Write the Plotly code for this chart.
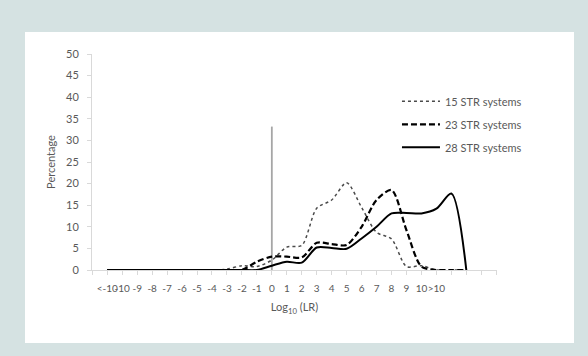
import plotly.graph_objects as go

# Category labels (index 0..22 labelled, 23..24 unlabelled)
tick_labels = ["<-10", "-10", "-9", "-8", "-7", "-6", "-5", "-4", "-3", "-2", "-1",
               "0", "1", "2", "3", "4", "5", "6", "7", "8", "9", "10", ">10", "", ""]
positions = list(range(len(tick_labels)))

str15 = [0, 0, 0, 0, 0, 0, 0, 0, 0.2, 1.0, 0.8, 2.3, 5.3, 5.7, 14.3, 16.2, 20.2, 14.5, 8.7, 7.2, 0.8, 1.0, 0, 0, 0]
str23 = [0, 0, 0, 0, 0, 0, 0, 0, 0, 0, 1.9, 3.1, 3.1, 2.9, 6.3, 6.0, 5.8, 10.0, 16.2, 18.5, 9.2, 0.8, 0, 0, 0]
str28 = [0, 0, 0, 0, 0, 0, 0, 0, 0, 0, 0, 1.0, 1.9, 1.7, 5.2, 5.1, 4.9, 7.3, 10.0, 13.1, 13.2, 13.1, 14.2, 17.7, 0]

zero_line_x = [11, 11]
zero_line_y = [0, 33.2]

y_ticks = [0, 5, 10, 15, 20, 25, 30, 35, 40, 45, 50]

FONT = "Lato, 'Open Sans', sans-serif"
GRAY_TXT = "#595959"

# plot area in pixels: x 92..497, y 54..270
L, R, T, B = 92, 497, 54, 270
PW, PH = R - L, B - T

fig = go.Figure()

fig.add_trace(go.Scatter(x=zero_line_x, y=zero_line_y, mode="lines",
                         line=dict(color="#a6a6a6", width=1.8),
                         showlegend=False, hoverinfo="skip"))

fig.add_trace(go.Scatter(x=positions, y=str15, mode="lines", name="15 STR systems",
                         line=dict(color="#4a4a4a", width=1.5, dash="dot", shape="spline", smoothing=0.8),
                         legendgroup="a"))
fig.add_trace(go.Scatter(x=positions, y=str23, mode="lines", name="23 STR systems",
                         line=dict(color="#000000", width=2.2, dash="6px,3px", shape="spline", smoothing=0.8),
                         legendgroup="b"))
fig.add_trace(go.Scatter(x=positions, y=str28, mode="lines", name="28 STR systems",
                         line=dict(color="#000000", width=2.0, shape="spline", smoothing=0.8),
                         legendgroup="c"))

all_ticks = list(range(-1, 27))
all_text = ([""] + tick_labels + ["", ""])[:len(all_ticks)]

fig.update_layout(
    width=588, height=356,
    paper_bgcolor="#d5e2e2",
    plot_bgcolor="rgba(0,0,0,0)",
    margin=dict(l=L, r=588 - R, t=T, b=356 - B),
    font=dict(family=FONT, size=11, color=GRAY_TXT),
    shapes=[dict(type="rect", xref="paper", yref="paper", layer="below",
                 x0=(25 - L) / PW, x1=(574 - L) / PW,
                 y0=(B - 343) / PH, y1=(B - 32) / PH,
                 fillcolor="white", line=dict(width=0))],
    xaxis=dict(range=[-1.02, 26.05], tickmode="array", tickvals=all_ticks, ticktext=all_text,
               showgrid=False, zeroline=False, showline=True, linecolor="#d9d9d9", linewidth=1,
               ticks="outside", ticklen=4, tickcolor="#d9d9d9", tickangle=0,
               ticklabelstandoff=5,
               tickfont=dict(size=10, color=GRAY_TXT, family=FONT),
               title=dict(text="Log<sub>10</sub> (LR)", font=dict(size=11, color=GRAY_TXT), standoff=10)),
    yaxis=dict(range=[0, 50], tickvals=y_ticks, showgrid=False, zeroline=False,
               showline=True, linecolor="#d9d9d9", linewidth=1,
               ticks="outside", ticklen=4, tickcolor="#d9d9d9", ticklabelstandoff=6,
               tickfont=dict(size=11, color=GRAY_TXT, family=FONT),
               title=dict(text="Percentage", font=dict(size=11, color=GRAY_TXT), standoff=8)),
    legend=dict(x=0.753, y=0.848, xanchor="left", yanchor="top", bgcolor="rgba(0,0,0,0)",
                font=dict(size=11, color=GRAY_TXT, family=FONT), tracegroupgap=4,
                itemwidth=38),
)

fig.write_html("out.html", config={"displayModeBar": False},
               post_script="document.body.style.margin='0';document.body.style.padding='0';")
